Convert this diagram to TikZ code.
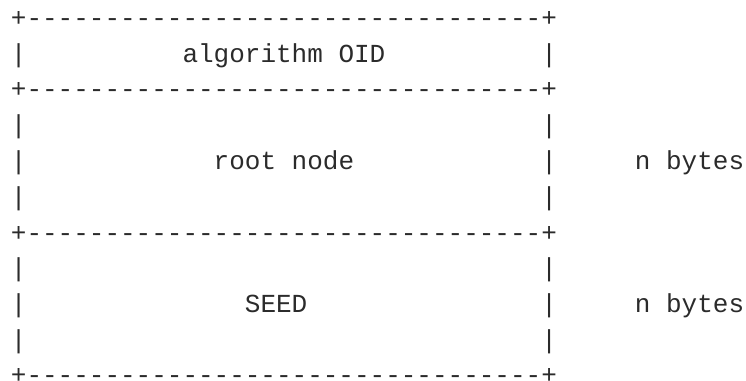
\documentclass[tikz,border=0pt]{standalone}
\usepackage{fontspec}
\setmonofont{Liberation Mono}
\definecolor{ink}{HTML}{2B2B2B}
\tikzset{
  txt/.style={font=\ttfamily\fontsize{19.5pt}{26pt}\selectfont, text=ink,
              inner sep=0pt, outer sep=0pt, anchor=base west}
}
% column c, line l  ->  x = 10.9 + 15.6 c,  y = 26.3 + 35.8 l   (px)
\newcommand\rulestr{+---------------------------------+}
\begin{document}
\begin{tikzpicture}[x=0.75pt, y=-0.75pt]
  \useasboundingbox (0,0) rectangle (746,381);
  % line 0
  \node[txt] (r0) at (10.9, 26.3) {\rulestr};
  % line 1
  \node[txt] (a1) at (10.9, 62.1) {|};
  \node[txt] (oid) at (182.5, 62.1) {algorithm OID};
  \node[txt] (b1) at (541.3, 62.1) {|};
  % line 2
  \node[txt] (r2) at (10.9, 97.9) {\rulestr};
  % line 3
  \node[txt] (a3) at (10.9, 133.7) {|};
  \node[txt] (b3) at (541.3, 133.7) {|};
  % line 4
  \node[txt] (a4) at (10.9, 169.5) {|};
  \node[txt] (root) at (213.7, 169.5) {root node};
  \node[txt] (b4) at (541.3, 169.5) {|};
  \node[txt] (n4) at (634.9, 169.5) {n bytes};
  % line 5
  \node[txt] (a5) at (10.9, 205.3) {|};
  \node[txt] (b5) at (541.3, 205.3) {|};
  % line 6
  \node[txt] (r6) at (10.9, 241.1) {\rulestr};
  % line 7
  \node[txt] (a7) at (10.9, 276.9) {|};
  \node[txt] (b7) at (541.3, 276.9) {|};
  % line 8
  \node[txt] (a8) at (10.9, 312.7) {|};
  \node[txt] (seed) at (244.9, 312.7) {SEED};
  \node[txt] (b8) at (541.3, 312.7) {|};
  \node[txt] (n8) at (634.9, 312.7) {n bytes};
  % line 9
  \node[txt] (a9) at (10.9, 348.5) {|};
  \node[txt] (b9) at (541.3, 348.5) {|};
  % line 10
  \node[txt, text depth=0pt] (r10) at (10.9, 383.3) {\rulestr};
\end{tikzpicture}
\end{document}
